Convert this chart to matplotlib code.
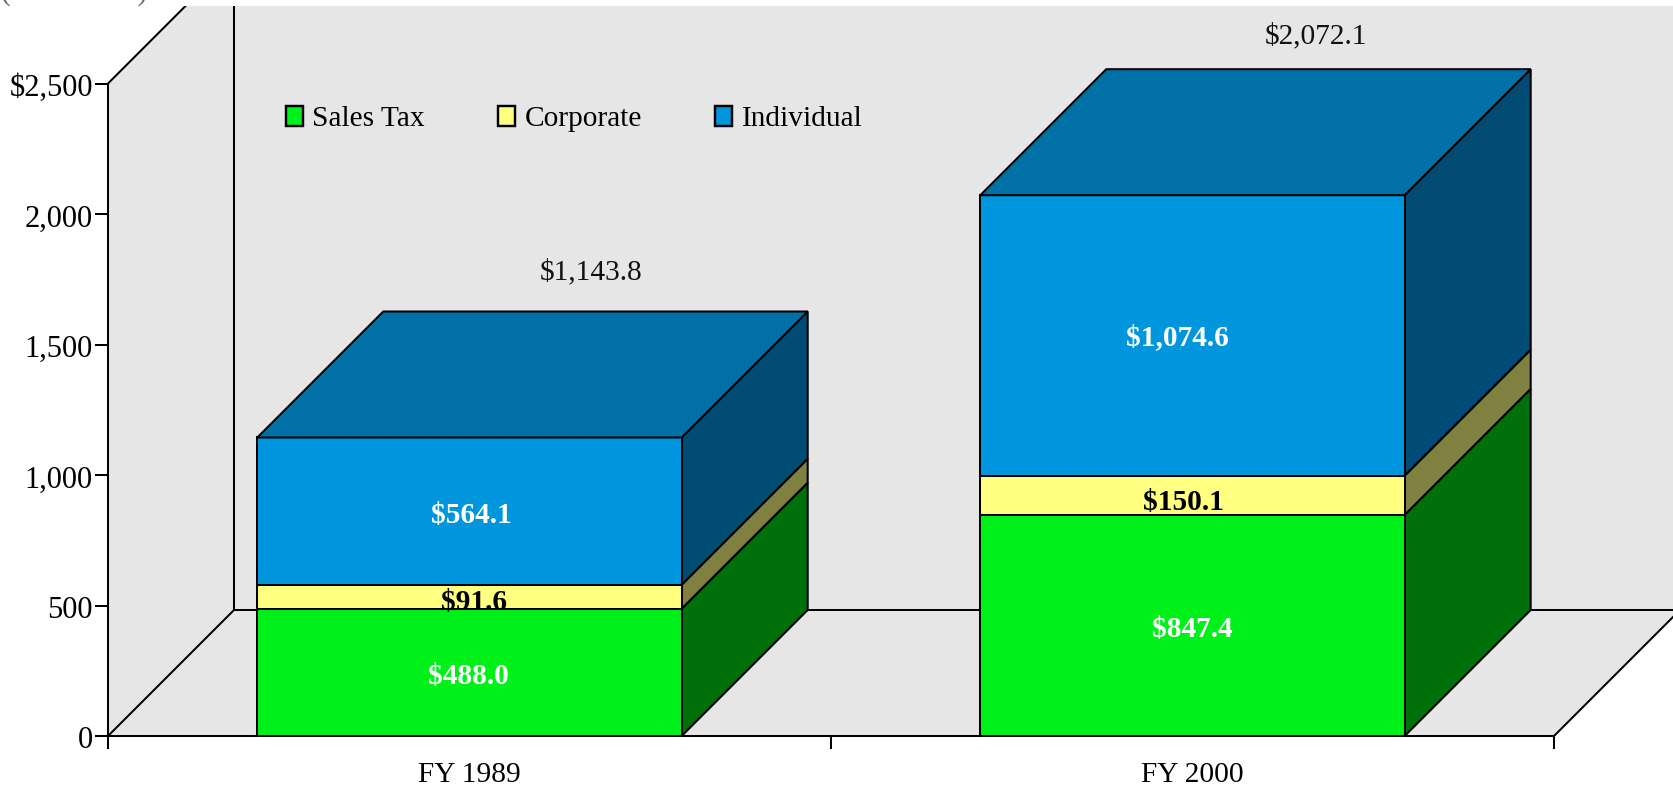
import matplotlib
matplotlib.use("Agg")
import matplotlib.pyplot as plt
from matplotlib.patches import Polygon, Patch
from matplotlib.transforms import Bbox, TransformedBbox, offset_copy, ScaledTranslation

categories = ["FY 1989", "FY 2000"]
series_names = ["Sales Tax", "Corporate", "Individual"]
sales_tax = [488.0, 847.4]
corporate = [91.6, 150.1]
individual = [564.1, 1074.6]
totals = [1143.8, 2072.1]
y_ticks = [0, 500, 1000, 1500, 2000, 2500]
y_tick_labels = ["0", "500", "1,000", "1,500", "2,000", "$2,500"]

W, H = 1673, 788
FONT = "Liberation Serif"
plt.rcParams["font.family"] = FONT
EDGE = 1.45
FS = 21.2

front = ["#00F01A", "#FFFF80", "#0096DE"]
side = ["#00700B", "#808040", "#004C74"]
top_face = "#0070A6"
label_colors = ["white", "black", "white"]
WALL = "#E6E6E6"

# label nudges in pixels (x right, y up), per bar then per segment
seg_nudge = [[(-1, -4), (5, -6), (2, -4)], [(0, -4), (-9, -7), (-15, -2)]]
total_nudge = [(-4, 0), (-2, -6)]

fig = plt.figure(figsize=(W / 100, H / 100), dpi=100)
ax = fig.add_axes([108 / W, (H - 736) / H, 1446 / W, 652.5 / H])
ax.set_xlim(-0.5, 1.5)
ax.set_ylim(0, 2500)
ax.patch.set_visible(False)

dx = 126 / 723           # 3-D depth in x units
dy = 126 * 2500 / 652.5  # 3-D depth in y units
bar_w = 0.587
x0, x1 = -0.5, 1.5
clip = TransformedBbox(Bbox([[0, 0], [1, (H - 6) / H]]), fig.transFigure)


def poly(pts, fc, z=1.0, ec="none"):
    p = Polygon(pts, closed=True, facecolor=fc, edgecolor=ec, linewidth=EDGE,
                zorder=z, joinstyle="miter")
    ax.add_patch(p)
    p.set_clip_path(None)
    p.set_clip_box(clip)
    return p


def seg(xs, ys):
    l, = ax.plot(xs, ys, color="black", lw=EDGE, zorder=0.6, solid_capstyle="butt")
    l.set_clip_path(None)
    l.set_clip_box(clip)


def label(x, y, s, nudge, **kw):
    tr = offset_copy(ax.transData, fig=fig, x=nudge[0], y=nudge[1], units="dots")
    ax.text(x, y, s, ha="center", va="center", transform=tr, zorder=4, **kw)


# walls and floor
tall = 2500 + dy
poly([(x0, 0), (x0, 2500), (x0 + dx, tall), (x1 + 2 * dx, tall), (x1 + 2 * dx, dy), (x0 + dx, dy)], WALL, 0.5)
poly([(x0, 0), (x0 + dx, dy), (x1 + dx, dy), (x1, 0)], WALL, 0.5)
seg([x0, x0 + dx], [2500, tall])
seg([x0 + dx, x0 + dx], [dy, tall])
seg([x0, x0 + dx], [0, dy])
seg([x0 + dx, x1 + 2 * dx], [dy, dy])
seg([x1, x1 + dx], [0, dy])

# stacked 3-D bars
for i, cat in enumerate(categories):
    l, r = i - bar_w / 2, i + bar_w / 2
    base = 0.0
    for k, vals in enumerate([sales_tax, corporate, individual]):
        v = vals[i]
        t = base + v
        poly([(r, base), (r + dx, base + dy), (r + dx, t + dy), (r, t)], side[k], 1.0, "black")
        poly([(l, base), (r, base), (r, t), (l, t)], front[k], 1.1, "black")
        label(i, base + v / 2, f"${v:,.1f}", seg_nudge[i][k], color=label_colors[k],
              fontsize=FS, fontweight="bold")
        base = t
    poly([(l, base), (r, base), (r + dx, base + dy), (l + dx, base + dy)], top_face, 1.2, "black")
    label(i + dx, totals[i] + dy + 150, f"${totals[i]:,.1f}", total_nudge[i], fontsize=FS, color="#111111")

# axes
for s in ["top", "right"]:
    ax.spines[s].set_visible(False)
for s in ["left", "bottom"]:
    ax.spines[s].set_linewidth(EDGE)
ax.set_yticks(y_ticks, y_tick_labels)
ax.set_xticks([-0.5, 0.5, 1.5], ["", "", ""])
ax.set_xticks([0, 1], categories, minor=True)
ax.tick_params(axis="both", which="major", length=9.4, width=EDGE, labelsize=22, pad=1.5)
ax.tick_params(axis="x", which="minor", length=0, labelsize=FS, pad=19)
shift = ScaledTranslation(0, -1.5 / 100, fig.dpi_scale_trans)
for t in ax.get_yticklabels():
    t.set_transform(t.get_transform() + shift)

# legend
handles = [Patch(facecolor=c, edgecolor="black", linewidth=EDGE * 1.2) for c in front]
leg = ax.legend(handles, series_names, ncol=3, frameon=False, fontsize=FS,
                loc="center left", bbox_to_anchor=(0.1229, 0.9455),
                handlelength=0.58, handleheight=0.68, handletextpad=0.31,
                columnspacing=2.5, borderpad=0, borderaxespad=0)

# clipped header at the very top of the image
fig.text(147 / W, (H + 0.5) / H, "(in millions)", ha="right", va="baseline", color="#666666", fontsize=FS)

fig.savefig("out.png", dpi=100)
